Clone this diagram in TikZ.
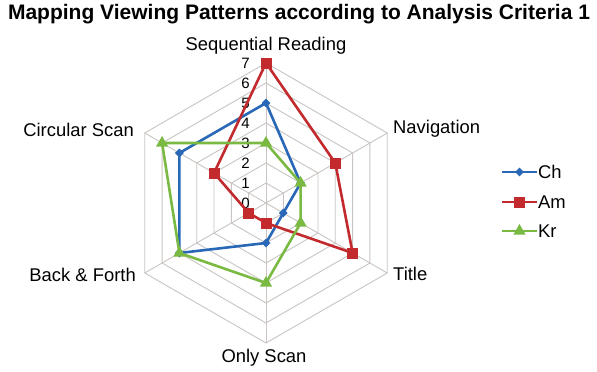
\documentclass[tikz,border=0pt]{standalone}
\usepackage{fontspec}
\setmainfont{Liberation Sans}
\usetikzlibrary{shapes.geometric}

\definecolor{chblue}{RGB}{40,104,182}
\definecolor{amred}{RGB}{194,42,46}
\definecolor{krgreen}{RGB}{122,186,66}
\definecolor{gridgray}{RGB}{202,197,194}

\tikzset{
  gridline/.style={draw=gridgray, line width=0.9pt},
  axislabel/.style={font=\fontsize{18.4}{22}\selectfont, inner sep=0pt},
  ticklabel/.style={font=\fontsize{15}{18}\selectfont, inner sep=0pt, anchor=east},
  series/.style={line width=2.6pt, line join=round},
  chmark/.style={diamond, fill=chblue, draw=none, minimum size=9pt, inner sep=0pt},
  ammark/.style={rectangle, fill=amred, draw=none, minimum size=11pt, inner sep=0pt},
  krmark/.style={regular polygon, regular polygon sides=3, fill=krgreen, draw=none, minimum size=14pt, inner sep=0pt},
}

\begin{document}
\begin{tikzpicture}[x=1pt, y=1pt]
  \useasboundingbox[fill=white] (0,0) rectangle (597,-372);

  % chart title
  \node[font=\bfseries\fontsize{21}{25}\selectfont, inner sep=0pt] (title) at (299,-14) {Mapping Viewing Patterns according to Analysis Criteria 1};

  \begin{scope}[shift={(266,-203)}]
    \def\u{20.0}
    % concentric hexagon rings
    \foreach \k in {1,...,7} {
      \draw[gridline] (90:\k*\u) -- (30:\k*\u) -- (-30:\k*\u) -- (-90:\k*\u) -- (-150:\k*\u) -- (150:\k*\u) -- cycle;
    }
    % spokes
    \coordinate (o) at (0,0);
    \foreach \a [count=\i] in {90,30,-30,-90,-150,150} {
      \coordinate (s\i) at (\a:7*\u);
      \draw[gridline] (o) -- (s\i);
    }
    % tick labels on the vertical axis
    \foreach \k in {0,...,7} {
      \node[ticklabel] (t\k) at (-16,\k*\u) {\k};
    }

    % series: Ch
    \foreach \v [count=\i, evaluate=\i as \a using {90-60*(\i-1)}] in {5,2,1,2,5,5} {
      \coordinate (ch\i) at (\a:\v*\u);
    }
    \draw[series, chblue] (ch1) -- (ch2) -- (ch3) -- (ch4) -- (ch5) -- (ch6) -- cycle;
    \foreach \i in {1,...,6} \node[chmark] (chm\i) at (ch\i) {};

    % series: Am
    \foreach \v [count=\i, evaluate=\i as \a using {90-60*(\i-1)}] in {7,4,5,1,1,3} {
      \coordinate (am\i) at (\a:\v*\u);
    }
    \draw[series, amred] (am1) -- (am2) -- (am3) -- (am4) -- (am5) -- (am6) -- cycle;
    \foreach \i in {1,...,6} \node[ammark] (amm\i) at (am\i) {};

    % series: Kr
    \foreach \v [count=\i, evaluate=\i as \a using {90-60*(\i-1)}] in {3,2,2,4,5,6} {
      \coordinate (kr\i) at (\a:\v*\u);
    }
    \draw[series, krgreen] (kr1) -- (kr2) -- (kr3) -- (kr4) -- (kr5) -- (kr6) -- cycle;
    \foreach \i in {1,...,6} \node[krmark] (krm\i) at (kr\i) {};
  \end{scope}

  % category labels
  \node[axislabel] (lseq) at (266,-46) {Sequential Reading};
  \node[axislabel, anchor=west] (lnav) at (393,-129) {Navigation};
  \node[axislabel, anchor=west] (ltit) at (393,-274) {Title};
  \node[axislabel] (lonly) at (264,-358) {Only Scan};
  \node[axislabel, anchor=east] (lback) at (136,-275) {Back \& Forth};
  \node[axislabel, anchor=east] (lcirc) at (134,-130) {Circular Scan};

  % legend
  \foreach \name/\col/\mk/\y in {Ch/chblue/chmark/-172, Am/amred/ammark/-202, Kr/krgreen/krmark/-231} {
    \coordinate (lg\name a) at (502,\y);
    \coordinate (lg\name b) at (537,\y);
    \draw[series, \col] (lg\name a) -- (lg\name b);
    \node[\mk] (lg\name m) at (519.5,\y) {};
    \node[axislabel, anchor=west] (lg\name t) at (538,\y) {\name};
  }
\end{tikzpicture}
\end{document}
